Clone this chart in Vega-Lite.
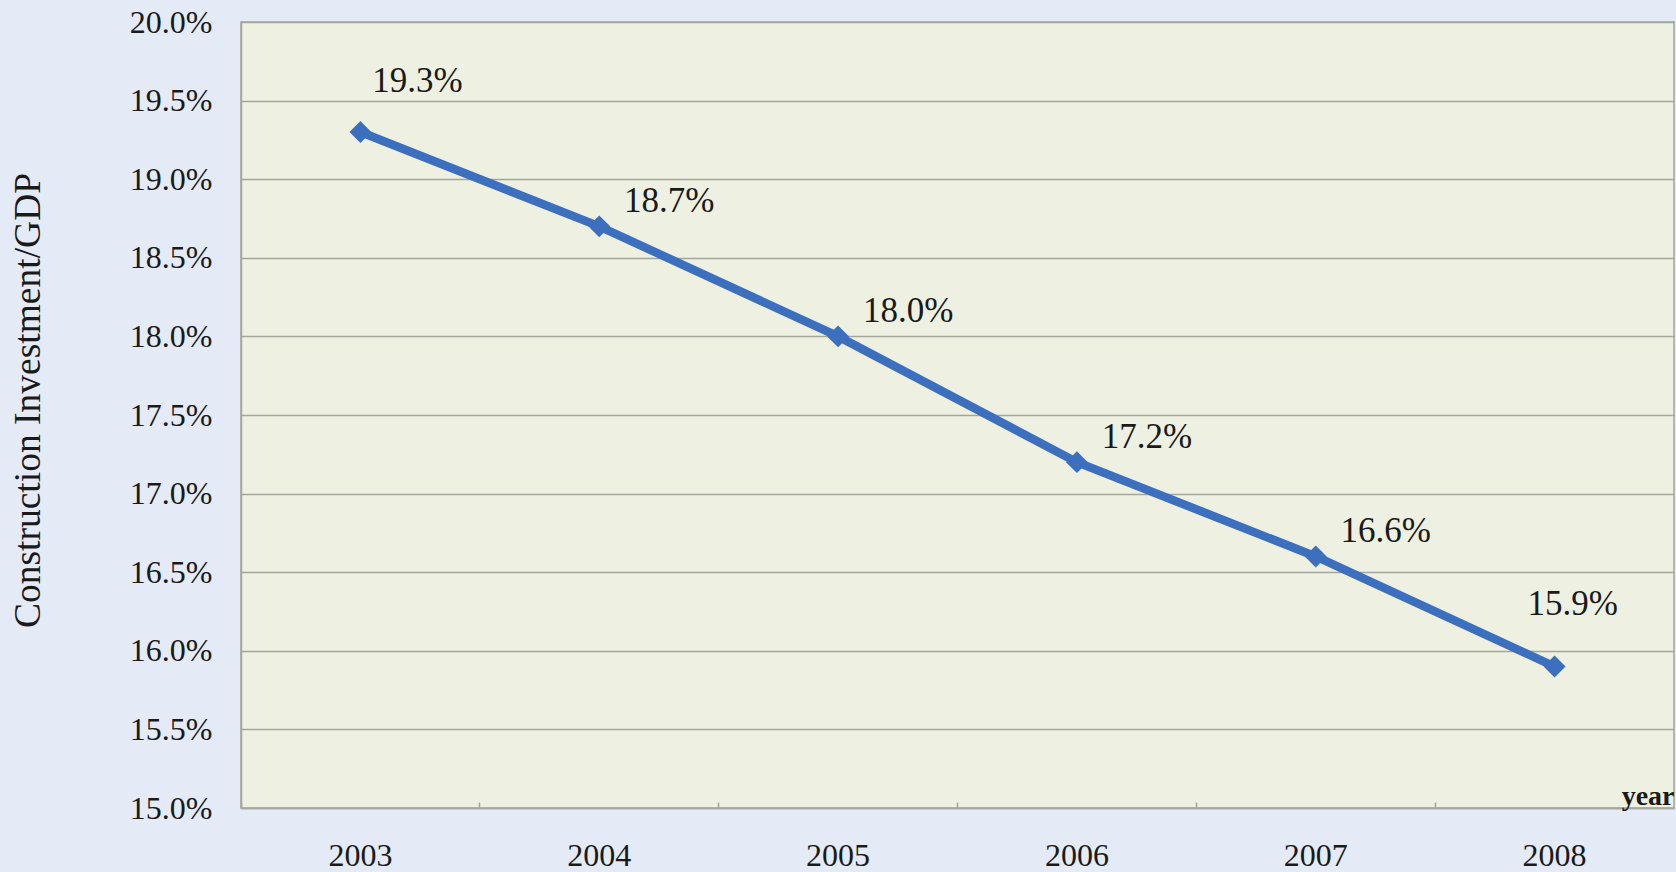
{
  "$schema": "https://vega.github.io/schema/vega-lite/v6.json",
  "width": 1433,
  "height": 786,
  "autosize": {"type": "none"},
  "padding": {"left": 241, "top": 22, "right": 2, "bottom": 64},
  "background": "#e4ebf6",
  "config": {
    "view": {"fill": "#eef1e1", "stroke": "#a3a69a", "strokeWidth": 1.5},
    "font": "Liberation Serif"
  },
  "data": {
    "values": [
      {"year": "2003", "ratio": 0.193},
      {"year": "2004", "ratio": 0.187},
      {"year": "2005", "ratio": 0.180},
      {"year": "2006", "ratio": 0.172},
      {"year": "2007", "ratio": 0.166},
      {"year": "2008", "ratio": 0.159}
    ]
  },
  "encoding": {
    "x": {
      "field": "year",
      "type": "ordinal",
      "scale": {"type": "band", "paddingInner": 0, "paddingOuter": 0},
      "axis": {
        "title": "year",
        "titleFont": "Liberation Serif",
        "titleFontWeight": "bold",
        "titleFontSize": 28,
        "titleColor": "#1a1a1a",
        "titleAnchor": "end",
        "titleAlign": "right",
        "titleBaseline": "bottom",
        "titleX": 1433,
        "titleY": 2,
        "labelAngle": 0,
        "labelFont": "Liberation Serif",
        "labelFontSize": 32,
        "labelColor": "#1a1a1a",
        "labelPadding": 38,
        "labelBaseline": "top",
        "bandPosition": 0,
        "tickSize": -6,
        "tickColor": "#a3a69a",
        "tickWidth": 1.5,
        "domainColor": "#a3a69a",
        "domainWidth": 1.5,
        "grid": false
      }
    },
    "y": {
      "field": "ratio",
      "type": "quantitative",
      "scale": {"domain": [0.15, 0.2], "nice": false, "zero": false},
      "axis": {
        "title": "Construction Investment/GDP",
        "titleFont": "Liberation Serif",
        "titleFontWeight": "normal",
        "titleFontSize": 37.5,
        "titleColor": "#1a1a1a",
        "titleX": -213,
        "titleY": 378,
        "titleAngle": -90,
        "titleAlign": "center",
        "titleBaseline": "middle",
        "format": ".1%",
        "values": [0.15, 0.155, 0.16, 0.165, 0.17, 0.175, 0.18, 0.185, 0.19, 0.195, 0.2],
        "labelFont": "Liberation Serif",
        "labelFontSize": 32,
        "labelColor": "#1a1a1a",
        "labelPadding": 29,
        "ticks": false,
        "domainColor": "#a3a69a",
        "domainWidth": 1.5,
        "grid": true,
        "gridColor": "#a3a69a",
        "gridWidth": 1.5
      }
    }
  },
  "layer": [
    {
      "mark": {"type": "line", "color": "#3d6fbf", "strokeWidth": 8.5}
    },
    {
      "mark": {"type": "point", "shape": "diamond", "filled": true, "color": "#3d6fbf", "size": 480, "opacity": 1}
    },
    {
      "transform": [{"filter": "datum.year == '2003'"}],
      "mark": {"type": "text", "align": "center", "baseline": "middle", "dx": 57, "dy": -51, "fontSize": 35, "color": "#1a1a1a"},
      "encoding": {"text": {"field": "ratio", "type": "quantitative", "format": ".1%"}}
    },
    {
      "transform": [{"filter": "datum.year != '2003' && datum.year != '2008'"}],
      "mark": {"type": "text", "align": "center", "baseline": "middle", "dx": 70, "dy": -25, "fontSize": 35, "color": "#1a1a1a"},
      "encoding": {"text": {"field": "ratio", "type": "quantitative", "format": ".1%"}}
    },
    {
      "transform": [{"filter": "datum.year == '2008'"}],
      "mark": {"type": "text", "align": "center", "baseline": "middle", "dx": 18, "dy": -63, "fontSize": 35, "color": "#1a1a1a"},
      "encoding": {"text": {"field": "ratio", "type": "quantitative", "format": ".1%"}}
    }
  ]
}
